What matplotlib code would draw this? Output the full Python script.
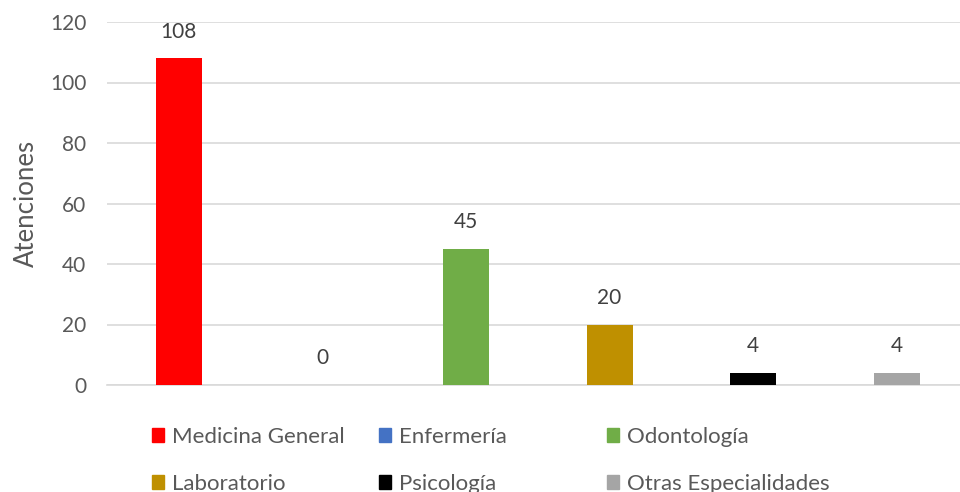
import numpy as np
import matplotlib.pyplot as plt
from matplotlib.patches import Patch

plt.rcParams['font.family'] = ['Lato', 'DejaVu Sans']

categories = ["Medicina General", "Enfermería", "Odontología",
              "Laboratorio", "Psicología", "Otras Especialidades"]
values = [108, 0, 45, 20, 4, 4]
colors = ["#FF0000", "#4472C4", "#70AD47", "#BF9000", "#000000", "#A5A5A5"]
yticks = [0, 20, 40, 60, 80, 100, 120]

fig = plt.figure(figsize=(9.6, 4.92), dpi=100)
ax = fig.add_axes([107 / 960, 1 - 385 / 492, 1 - 107 / 960, (385 - 22) / 492])

x = np.arange(len(categories))
ax.bar(x, values, width=0.32, color=colors, zorder=3)
for xi, v in zip(x, values):
    ax.text(xi, v + 5.5, str(v), ha="center", va="bottom",
            fontsize=15, color="#404040")

ax.set_xlim(-0.5, 5.44)
ax.set_ylim(0, 120)
ax.set_yticks(yticks)
ax.set_xticks([])
ax.tick_params(axis="y", length=0, labelsize=15, labelcolor="#595959", pad=15)
ax.grid(axis="y", color="#D9D9D9", lw=1.2, zorder=0)
for s in ["top", "right", "left"]:
    ax.spines[s].set_visible(False)
ax.spines["bottom"].set_color("#D9D9D9")
ax.spines["bottom"].set_linewidth(1.2)
ax.set_ylabel("Atenciones", fontsize=18.5, color="#595959", labelpad=8)

# legend: three columns, two rows
col_x = [152 / 960, 379 / 960, 607 / 960]
for c in range(3):
    idx = [c, c + 3]
    handles = [Patch(color=colors[i]) for i in idx]
    fig.legend(handles, [categories[i] for i in idx],
               loc="upper left", bbox_to_anchor=(col_x[c], 1 - 427 / 492),
               frameon=False, fontsize=16, labelcolor="#595959",
               handlelength=0.55, handleheight=0.55, handletextpad=0.35,
               labelspacing=1.2, borderaxespad=0, borderpad=0)

plt.savefig("out.png", dpi=100)
